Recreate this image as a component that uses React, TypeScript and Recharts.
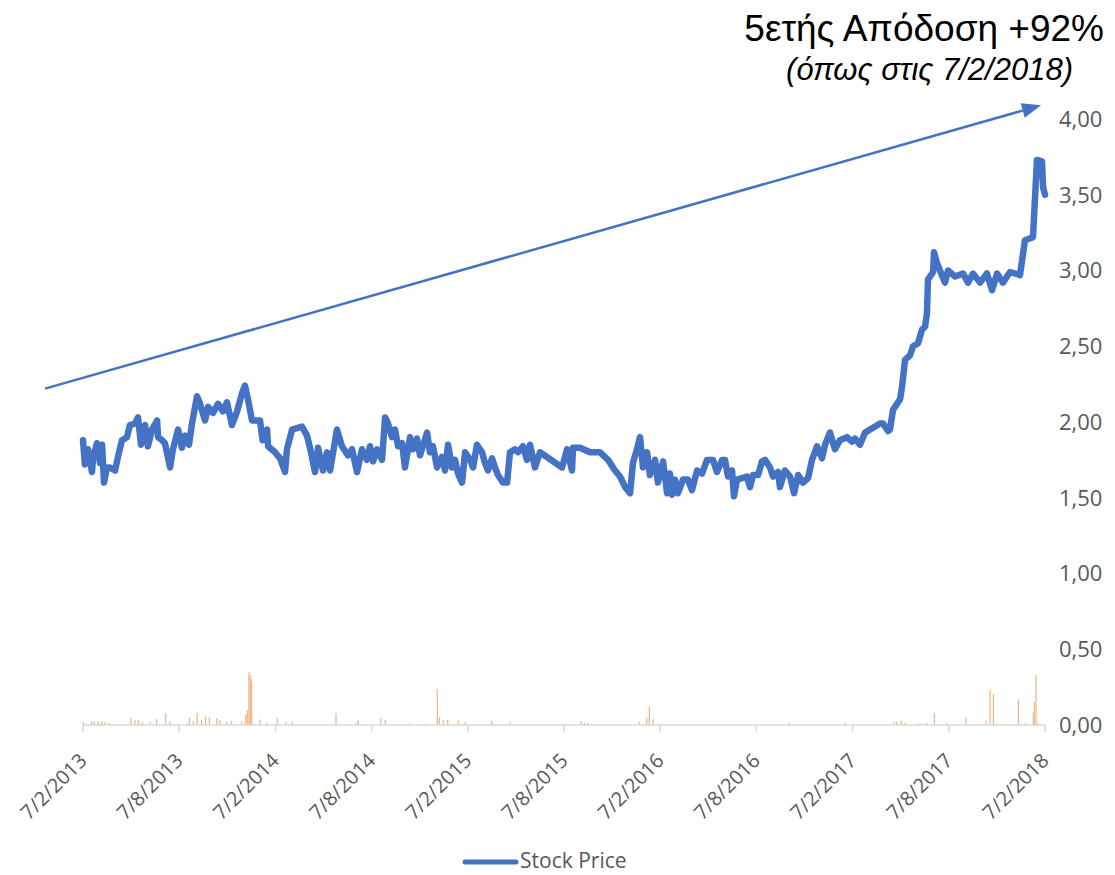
import React from 'react'
import { ComposedChart, Line, XAxis, YAxis, ReferenceLine } from 'recharts'

// x values are months since 7/2/2013
const tickMonths = [0, 6, 12, 18, 24, 30, 36, 42, 48, 54, 60]
const tickLabels = [
  '7/2/2013', '7/8/2013', '7/2/2014', '7/8/2014', '7/2/2015', '7/8/2015',
  '7/2/2016', '7/8/2016', '7/2/2017', '7/8/2017', '7/2/2018',
]
const yTicks = [0, 0.5, 1, 1.5, 2, 2.5, 3, 3.5, 4]

const priceMonths = [
  0, 0.12, 0.31, 0.56, 0.62, 0.87, 1.06, 1.19, 1.31, 1.5,
  1.68, 2, 2.18, 2.43, 2.74, 2.93, 3.24, 3.43, 3.62, 3.87,
  4.05, 4.3, 4.62, 4.68, 4.93, 5.11, 5.43, 5.61, 5.93, 6.17,
  6.36, 6.61, 6.8, 7.11, 7.3, 7.61, 7.8, 8.11, 8.42, 8.73,
  8.98, 9.29, 9.61, 9.92, 10.1, 10.29, 10.54, 11.04, 11.2, 11.48,
  11.54, 11.98, 12.29, 12.6, 12.72, 13.04, 13.35, 13.66, 13.97, 14.16,
  14.47, 14.66, 14.97, 15.22, 15.41, 15.84, 16.15, 16.53, 16.78, 17.09,
  17.4, 17.71,
  17.9, 18.09, 18.34, 18.65, 18.84, 19.02, 19.27, 19.46, 19.65, 19.9,
  20.08, 20.4, 20.58, 20.83, 21.02, 21.46, 21.64, 21.83, 22.08, 22.39,
  22.58, 22.77, 23.01, 23.2, 23.39, 23.64, 23.83, 24.14, 24.33, 24.57,
  24.89, 25.07, 25.26, 25.51, 25.7, 25.88, 26.2, 26.45, 26.63, 26.94,
  27.13, 27.44, 27.69, 27.88, 28.19, 28.5, 29.88, 30.19, 30.5, 30.56,
  31, 31.62, 32.25,
  32.75, 33.18, 33.5, 33.81, 34.12, 34.3, 34.55, 34.74, 34.93, 35.18,
  35.36, 35.68, 35.86, 36.18, 36.43, 36.61, 36.74, 36.92, 37.11, 37.42,
  37.73, 37.98, 38.3, 38.61, 38.92, 39.29, 39.54, 39.86, 40.04, 40.23,
  40.48, 40.6, 40.79, 41.1, 41.41, 41.6, 41.79, 42.1, 42.35, 42.54,
  42.85, 43.04, 43.35, 43.47, 43.78, 44.1, 44.35, 44.6, 44.91, 45.22,
  45.47, 45.78, 46.09, 46.28, 46.59, 46.9,
  47.21, 47.65, 47.96, 48.15, 48.46, 48.78, 49.09, 49.4, 49.71, 49.9,
  50.21, 50.33, 50.52, 50.96, 51.08, 51.27, 51.58, 51.77, 52.08, 52.33,
  52.52, 52.64, 52.7, 53.02, 53.08, 53.26, 53.45, 53.76, 53.95, 54.39,
  54.89, 55.2, 55.51, 55.95, 56.38, 56.7, 57.01, 57.38, 57.82, 58.44,
  58.75, 59.25, 59.5, 59.81, 59.88, 60,
]

const prices = [
  1.88, 1.72, 1.82, 1.67, 1.76, 1.86, 1.73, 1.85, 1.6, 1.7,
  1.7, 1.68, 1.77, 1.88, 1.9, 1.98, 1.99, 2.03, 1.85, 1.98,
  1.84, 1.95, 2.01, 1.9, 1.88, 1.86, 1.7, 1.82, 1.95, 1.83,
  1.91, 1.85, 1.99, 2.17, 2.12, 2.01, 2.1, 2.06, 2.12, 2.07,
  2.13, 1.98, 2.07, 2.19, 2.24, 2.15, 2.01, 2.01, 1.88, 1.95,
  1.84, 1.8, 1.76, 1.67, 1.82, 1.95, 1.96, 1.97, 1.91, 1.83,
  1.67, 1.83, 1.68, 1.8, 1.68, 1.95, 1.84, 1.78, 1.82, 1.67,
  1.82, 1.75,
  1.84, 1.74, 1.82, 1.75, 2.03, 1.99, 1.9, 1.95, 1.84, 1.86,
  1.7, 1.9, 1.82, 1.89, 1.78, 1.93, 1.8, 1.84, 1.7, 1.77,
  1.68, 1.85, 1.7, 1.75, 1.66, 1.6, 1.8, 1.75, 1.7, 1.85,
  1.8, 1.73, 1.68, 1.76, 1.7, 1.65, 1.6, 1.6, 1.8, 1.82,
  1.8, 1.84, 1.75, 1.85, 1.7, 1.8, 1.7, 1.82, 1.68, 1.83,
  1.83, 1.8, 1.8,
  1.75, 1.68, 1.64, 1.57, 1.53, 1.73, 1.82, 1.9, 1.7, 1.8,
  1.65, 1.75, 1.6, 1.74, 1.53, 1.66, 1.52, 1.62, 1.53, 1.62,
  1.62, 1.55, 1.68, 1.66, 1.75, 1.75, 1.67, 1.75, 1.75, 1.64,
  1.68, 1.51, 1.62, 1.63, 1.64, 1.57, 1.65, 1.65, 1.74, 1.75,
  1.7, 1.64, 1.67, 1.57, 1.68, 1.64, 1.53, 1.65, 1.6, 1.63,
  1.75, 1.84, 1.76, 1.85, 1.93, 1.82,
  1.88, 1.9, 1.87, 1.89, 1.85, 1.93, 1.95, 1.97, 1.99, 1.99,
  1.94, 1.95, 2.08, 2.15, 2.23, 2.41, 2.44, 2.5, 2.52, 2.61,
  2.63, 2.72, 2.94, 2.99, 3.12, 3.05, 3.0, 2.92, 3.0, 2.96,
  2.98, 2.92, 2.98, 2.92, 2.98, 2.87, 2.98, 2.92, 2.99, 2.97,
  3.2, 3.22, 3.73, 3.72, 3.55, 3.5,
]

// thin orange volume spikes near the base
const volMonths = [
  0.02, 0.54, 0.69, 0.95, 1.17, 1.37, 1.62, 2.48, 2.99, 3.24,
  3.45, 3.7, 4.18, 4.6, 5.16, 5.43, 6.47, 6.63, 6.88, 7.13,
  7.4, 7.65, 7.88, 8.34, 8.54, 8.96, 9.27, 9.9, 10.15, 10.25,
  10.35, 10.42, 10.48, 10.52, 11.04, 11.46, 12.12, 12.66, 13.05, 15.78,
  17.07, 17.17, 18.57, 18.85, 20.4, 21.44, 22.1, 22.22, 22.47, 22.75,
  23.41, 23.83, 24.45, 24.8, 25.49, 26.63, 27.46, 29.86, 31.06, 31.27,
  31.48, 34.7, 35.16, 35.32, 35.57, 40.1, 44.05, 47.53, 50.58, 50.75,
  51.02, 51.27, 52.2, 52.62, 53.1, 53.87, 55.07, 56.32, 56.57, 56.78,
  56.99, 58.34, 58.8, 59.27, 59.33, 59.44, 59.52,
]
const volumes = [
  0.022, 0.022, 0.026, 0.022, 0.026, 0.018, 0.011, 0.007, 0.044, 0.033,
  0.033, 0.02, 0.022, 0.04, 0.079, 0.022, 0.011, 0.048, 0.026, 0.079,
  0.033, 0.057, 0.051, 0.044, 0.033, 0.022, 0.026, 0.022, 0.07, 0.099,
  0.352, 0.33, 0.308, 0.286, 0.037, 0.015, 0.044, 0.022, 0.022, 0.079,
  0.015, 0.037, 0.044, 0.033, 0.011, 0.011, 0.238, 0.051, 0.033, 0.033,
  0.029, 0.018, 0.007, 0.007, 0.029, 0.022, 0.007, 0.007, 0.026, 0.015,
  0.015, 0.022, 0.048, 0.121, 0.04, 0.007, 0.015, 0.015, 0.022, 0.022,
  0.029, 0.015, 0.011, 0.015, 0.077, 0.011, 0.051, 0.026, 0.235, 0.205,
  0.011, 0.169, 0.015, 0.081, 0.154, 0.33, 0.011,
]

// trend arrow, in the chart's own coordinates
const arrowFrom = { m: -2.37, v: 2.22 }
const arrowTo = { m: 59.75, v: 4.09 }

const BLUE = '#4472C4'
const GREY = '#595959'
const FONT = "'Open Sans', sans-serif"
const TITLE_FONT = "'Liberation Sans', Arial, sans-serif"

const data = priceMonths.map((m, i) => ({ m, price: prices[i] }))

const XTick = ({ x, y, payload }: any) => {
  const label = tickLabels[tickMonths.indexOf(payload.value)]
  const ax = x + 5
  const ay = y + 28
  return (
    <text
      x={ax}
      y={ay}
      transform={`rotate(-45, ${ax}, ${ay})`}
      textAnchor="end"
      fill={GREY}
      fontSize={20}
      fontFamily={FONT}
    >
      {label}
    </text>
  )
}

const ArrowShape = (props: any) => {
  const { x1, y1, x2, y2 } = props
  const dx = x2 - x1
  const dy = y2 - y1
  const len = Math.sqrt(dx * dx + dy * dy)
  const ux = dx / len
  const uy = dy / len
  const headLen = 19
  const headW = 7.5
  const bx = x2 - ux * headLen
  const by = y2 - uy * headLen
  const pts = `${x2},${y2} ${bx - uy * headW},${by + ux * headW} ${bx + uy * headW},${by - ux * headW}`
  return (
    <g>
      <line x1={x1} y1={y1} x2={bx} y2={by} stroke={BLUE} strokeWidth={2.5} />
      <polygon points={pts} fill={BLUE} />
    </g>
  )
}

export default function App() {
  return (
    <div style={{ position: 'absolute', left: 0, top: 0, width: 1115, height: 875, background: '#fff' }}>
      <ComposedChart
        width={1115}
        height={875}
        data={data}
        margin={{ top: 119, right: 0, bottom: 50, left: 83 }}
      >
        <XAxis
          dataKey="m"
          type="number"
          domain={[0, 60]}
          ticks={tickMonths}
          interval={0}
          height={100}
          stroke="#d9d9d9"
          strokeWidth={1.5}
          tickSize={7}
          tick={<XTick />}
        />
        <YAxis
          orientation="right"
          domain={[0, 4]}
          ticks={yTicks}
          width={70}
          axisLine={false}
          tickLine={false}
          tickMargin={8}
          tick={{ fill: GREY, fontSize: 22, fontFamily: FONT, textAnchor: 'start' }}
          tickFormatter={(v: number) => v.toFixed(2).replace('.', ',')}
        />
        {volMonths.map((m, i) => (
          <ReferenceLine
            key={'v' + i}
            segment={[{ x: m, y: 0 }, { x: m, y: volumes[i] }]}
            stroke="#F4B183"
            strokeWidth={1.2}
          />
        ))}
        <Line
          type="linear"
          dataKey="price"
          stroke={BLUE}
          strokeWidth={6.5}
          strokeLinejoin="round"
          strokeLinecap="round"
          dot={false}
          activeDot={false}
          isAnimationActive={false}
        />
        <ReferenceLine
          segment={[{ x: arrowFrom.m, y: arrowFrom.v }, { x: arrowTo.m, y: arrowTo.v }]}
          ifOverflow="visible"
          shape={<ArrowShape />}
        />
      </ComposedChart>
      <svg
        width={1115}
        height={875}
        style={{ position: 'absolute', left: 0, top: 0, pointerEvents: 'none' }}
      >
        <text x={1104} y={41} textAnchor="end" fontSize={37} fontFamily={TITLE_FONT} fill="#000">
          5ετής Απόδοση +92%
        </text>
        <text x={1073} y={80} textAnchor="end" fontSize={31} fontStyle="italic" fontFamily={TITLE_FONT} fill="#000">
          (όπως στις 7/2/2018)
        </text>
        <line x1={465} y1={862} x2={516} y2={862} stroke={BLUE} strokeWidth={5} strokeLinecap="round" />
        <text x={520} y={868} fontSize={21} fontFamily={FONT} fill={GREY}>
          Stock Price
        </text>
      </svg>
    </div>
  )
}
